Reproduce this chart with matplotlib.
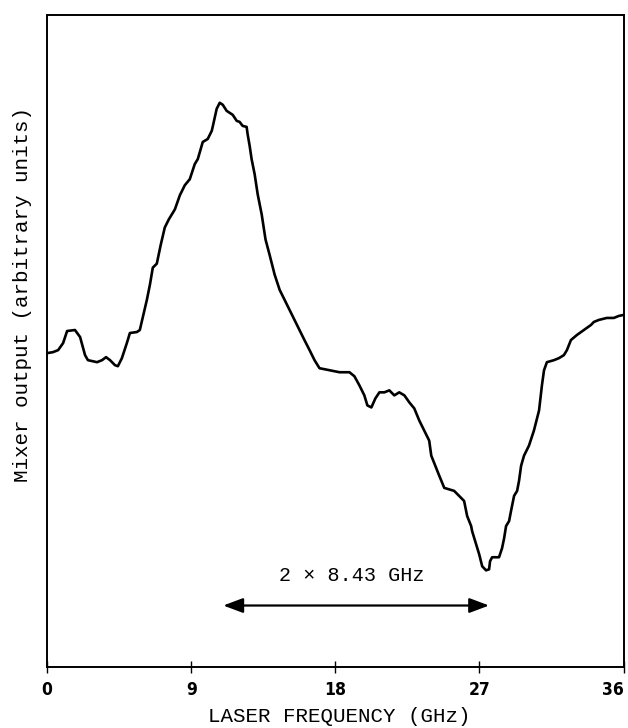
import numpy as np
import matplotlib.pyplot as plt

# ==============================
# DATA
# ==============================
freq_ghz = [
    0.00, 0.37, 0.69, 1.00, 1.25, 1.74, 2.06, 2.37, 2.55, 3.12, 3.43, 3.68,
    3.93, 4.24, 4.42, 4.67, 4.98, 5.17, 5.61, 5.79, 5.98, 6.23, 6.42, 6.60,
    6.85, 7.10, 7.35, 7.60, 7.98, 8.29, 8.60, 8.91, 9.22, 9.41, 9.72, 10.03,
    10.28, 10.34, 10.59, 10.78, 10.97, 11.21, 11.40, 11.59, 11.84, 12.02,
    12.21, 12.46, 12.52, 12.65, 12.77, 12.96, 13.15, 13.40, 13.64, 13.89,
    14.21, 14.52, 14.83, 15.14, 15.45, 15.76, 16.07, 16.39, 16.70, 17.01,
    17.63, 18.26, 18.88, 19.19, 19.50, 19.81, 20.00, 20.25, 20.50, 20.75,
    21.06, 21.37, 21.68, 21.99, 22.31, 22.62, 22.93, 23.24, 23.55, 23.86,
    23.99, 24.24, 24.49, 24.80, 25.42, 25.73, 26.04, 26.23, 26.48, 26.54,
    26.79, 26.98, 27.17, 27.41, 27.60, 27.66, 27.79, 28.22, 28.41, 28.54,
    28.66, 28.85, 28.97, 29.16, 29.35, 29.47, 29.60, 29.78, 30.09, 30.40,
    30.72, 30.90, 31.03, 31.21, 31.65, 31.96, 32.27, 32.46, 32.71, 33.08,
    33.52, 33.96, 34.14, 34.45, 34.95, 35.39, 35.70, 36.00,
]
mixer_output = [
    3.12, 3.13, 3.15, 3.22, 3.34, 3.35, 3.28, 3.10, 3.05, 3.03, 3.05, 3.08,
    3.05, 3.00, 2.99, 3.07, 3.22, 3.32, 3.33, 3.35, 3.48, 3.65, 3.80, 3.97,
    4.01, 4.20, 4.37, 4.45, 4.55, 4.69, 4.79, 4.85, 5.00, 5.05, 5.22, 5.25,
    5.33, 5.37, 5.55, 5.61, 5.59, 5.53, 5.51, 5.49, 5.43, 5.42,
    5.38, 5.37, 5.30, 5.18, 5.05, 4.90, 4.70, 4.50, 4.25, 4.10,
    3.90, 3.75, 3.65, 3.55, 3.45, 3.35, 3.25, 3.15, 3.05, 2.97,
    2.95, 2.93, 2.93, 2.89, 2.80, 2.70, 2.60, 2.58, 2.67, 2.73,
    2.73, 2.75, 2.70, 2.73, 2.70, 2.63, 2.57, 2.45, 2.35, 2.25,
    2.10, 2.00, 1.90, 1.78, 1.75, 1.70, 1.65, 1.50, 1.40, 1.35,
    1.22, 1.12, 1.00, 0.96, 0.97, 1.05, 1.09, 1.09, 1.18, 1.28,
    1.40, 1.45, 1.55, 1.70, 1.75, 1.85, 2.00, 2.10, 2.20, 2.35,
    2.55, 2.80, 2.95, 3.03, 3.05, 3.07, 3.10, 3.15, 3.25, 3.30,
    3.35, 3.40, 3.43, 3.45, 3.47, 3.47, 3.49, 3.50,
]
x_ticks = [0, 9, 18, 27, 36]

# separacao marcada pela seta
seta_inicio = 11.0
seta_fim = 27.6
seta_y = 0.61
seta_texto = "2 \u00d7 8.43 GHz"

# ==============================
# GRAFICO
# ==============================
mono = "Liberation Mono"

fig = plt.figure(figsize=(6.28, 7.28), dpi=100)
ax = fig.add_axes([0.075, 0.084, 0.918, 0.895])

ax.plot(freq_ghz, mixer_output, color="black", linewidth=1.9,
        solid_joinstyle="round", solid_capstyle="round")

ax.set_xlim(0, 36)
ax.set_ylim(0, 6.48)

for lado in ["left", "right", "top", "bottom"]:
    ax.spines[lado].set_linewidth(1.4)

ax.set_xticks(x_ticks)
rotulos = ax.set_xticklabels([str(t) for t in x_ticks], fontsize=12.5,
                             fontweight="bold", fontstretch="condensed",
                             family="DejaVu Sans")
# o ultimo rotulo fica encostado na borda direita
rotulos[-1].set_horizontalalignment("right")
rotulos[-1].set_x(35.75)
ax.tick_params(axis="x", direction="inout", length=9, width=1.0, pad=6)
ax.set_yticks([])

# seta dupla com o texto
ax.annotate("", xy=(seta_inicio, seta_y), xytext=(seta_fim, seta_y),
            arrowprops=dict(arrowstyle="<|-|>,head_length=1.2,head_width=0.45",
                            color="black", lw=1.6, shrinkA=0, shrinkB=0))
ax.text((seta_inicio + seta_fim) / 2 - 0.3, seta_y + 0.2, seta_texto,
        ha="center", va="bottom", fontsize=14.5, family=mono)

fig.text(0.036, 0.595, "Mixer output (arbitrary units)", rotation=90,
         ha="center", va="center", fontsize=15, family=mono)
fig.text(0.54, 0.016, "LASER FREQUENCY (GHz)", ha="center", va="center",
         fontsize=15, family=mono)

fig.savefig("out.png", dpi=100)
